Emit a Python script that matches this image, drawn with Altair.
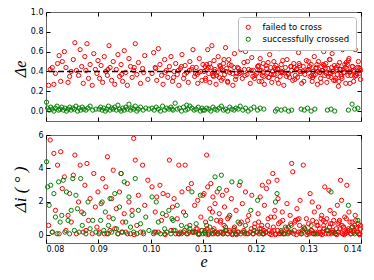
import altair as alt
import pandas as pd

# ---------------- data ----------------
# failed to cross: eccentricity e, change in e, change in inclination (deg)
e_fail_1 = [0.0805, 0.0808, 0.0812, 0.0815, 0.0818, 0.0822, 0.0825, 0.0828, 0.0831, 0.0835,
            0.0838, 0.0842, 0.0845, 0.0848, 0.0852, 0.0855, 0.0858, 0.0862, 0.0865, 0.0868,
            0.0871, 0.0874, 0.0878, 0.0881, 0.0884, 0.0888, 0.0891, 0.0894, 0.0897, 0.0899]
de_fail_1 = [0.26, 0.42, 0.44, 0.27, 0.38, 0.48, 0.56, 0.30, 0.50, 0.60,
             0.44, 0.29, 0.35, 0.40, 0.52, 0.69, 0.41, 0.36, 0.62, 0.45,
             0.28, 0.55, 0.68, 0.33, 0.47, 0.26, 0.58, 0.42, 0.38, 0.51]
di_fail_1 = [0.6, 5.7, 0.2, 4.9, 1.5, 4.2, 0.1, 5.0, 2.8, 3.5,
             0.3, 1.2, 2.5, 0.8, 3.6, 4.8, 0.1, 2.0, 4.2, 1.4,
             0.2, 3.0, 4.3, 0.9, 2.2, 0.1, 3.7, 1.7, 0.5, 2.6]

e_fail_2 = [0.0902, 0.0905, 0.0908, 0.0911, 0.0914, 0.0917, 0.0920, 0.0922, 0.0925, 0.0928,
            0.0931, 0.0934, 0.0937, 0.0940, 0.0943, 0.0946, 0.0949, 0.0952, 0.0955, 0.0958,
            0.0961, 0.0964, 0.0967, 0.0970, 0.0973, 0.0976, 0.0980, 0.0984, 0.0988, 0.0994]
de_fail_2 = [0.33, 0.46, 0.29, 0.55, 0.40, 0.36, 0.66, 0.44, 0.31, 0.50,
             0.27, 0.42, 0.57, 0.35, 0.47, 0.30, 0.61, 0.39, 0.26, 0.53,
             0.45, 0.34, 0.41, 0.68, 0.37, 0.49, 0.28, 0.43, 0.56, 0.32]
di_fail_2 = [0.2, 1.9, 3.4, 0.1, 2.9, 4.7, 1.1, 0.3, 2.2, 3.9,
             0.4, 1.6, 0.1, 2.6, 3.7, 0.8, 1.3, 0.2, 3.1, 2.0,
             0.1, 1.5, 5.8, 4.5, 0.6, 2.4, 0.2, 4.2, 1.8, 3.3]

e_fail_3 = [0.1002, 0.1005, 0.1008, 0.1011, 0.1014, 0.1017, 0.1020, 0.1023, 0.1026, 0.1029,
            0.1032, 0.1035, 0.1038, 0.1041, 0.1044, 0.1047, 0.1050, 0.1053, 0.1056, 0.1059,
            0.1062, 0.1065, 0.1068, 0.1071, 0.1074, 0.1077, 0.1080, 0.1083, 0.1086, 0.1089,
            0.1092, 0.1095, 0.1097, 0.1099, 0.1085]
de_fail_3 = [0.38, 0.59, 0.44, 0.31, 0.63, 0.47, 0.36, 0.27, 0.52, 0.41,
             0.34, 0.45, 0.55, 0.30, 0.40, 0.48, 0.37, 0.26, 0.43, 0.57,
             0.33, 0.46, 0.39, 0.29, 0.50, 0.42, 0.62, 0.35, 0.44, 0.28,
             0.53, 0.40, 0.31, 0.47, 0.38]
di_fail_3 = [2.9, 0.1, 1.4, 2.3, 0.2, 3.0, 0.9, 2.5, 0.1, 1.2,
             2.4, 4.5, 0.3, 1.7, 2.2, 0.1, 1.0, 4.2, 0.2, 2.6,
             1.4, 4.2, 0.1, 2.8, 0.6, 3.1, 0.2, 1.8, 0.4, 2.1,
             0.1, 1.1, 0.3, 2.4, 0.2]

e_fail_4 = [0.1101, 0.1104, 0.1106, 0.1108, 0.1110, 0.1112, 0.1114, 0.1116, 0.1118, 0.1120,
            0.1122, 0.1124, 0.1126, 0.1128, 0.1130, 0.1132, 0.1134, 0.1136, 0.1138, 0.1140,
            0.1142, 0.1144, 0.1146, 0.1148, 0.1150, 0.1153, 0.1156, 0.1159, 0.1162, 0.1165,
            0.1168, 0.1171, 0.1174, 0.1177, 0.1180, 0.1183, 0.1186, 0.1189, 0.1192, 0.1195,
            0.1198, 0.1103, 0.1117, 0.1133, 0.1161]
de_fail_4 = [0.40, 0.33, 0.47, 0.62, 0.38, 0.29, 0.44, 0.66, 0.36, 0.51,
             0.42, 0.27, 0.39, 0.55, 0.34, 0.45, 0.31, 0.41, 0.48, 0.37,
             0.64, 0.43, 0.30, 0.52, 0.39, 0.46, 0.26, 0.58, 0.35, 0.44,
             0.40, 0.62, 0.33, 0.49, 0.60, 0.37, 0.42, 0.28, 0.54, 0.41,
             0.36, 0.45, 0.38, 0.43, 0.32]
di_fail_4 = [2.5, 0.1, 4.8, 2.9, 0.2, 1.6, 3.1, 0.1, 2.3, 0.4,
             1.9, 0.2, 2.6, 0.1, 1.3, 0.8, 0.2, 2.4, 0.1, 1.7,
             0.3, 2.7, 0.1, 1.1, 0.2, 2.2, 0.1, 0.5, 1.5, 0.2,
             3.0, 0.1, 1.9, 0.3, 2.6, 0.1, 1.2, 0.2, 2.4, 0.1,
             0.7, 0.3, 1.4, 0.9, 0.1]

e_fail_5 = [0.1201, 0.1204, 0.1206, 0.1208, 0.1210, 0.1212, 0.1214, 0.1216, 0.1218, 0.1220,
            0.1222, 0.1224, 0.1226, 0.1228, 0.1230, 0.1232, 0.1234, 0.1236, 0.1238, 0.1240,
            0.1242, 0.1244, 0.1246, 0.1248, 0.1250, 0.1253, 0.1256, 0.1259, 0.1262, 0.1265,
            0.1268, 0.1270, 0.1272, 0.1275, 0.1278, 0.1281, 0.1284, 0.1287, 0.1290, 0.1293,
            0.1296, 0.1299, 0.1215, 0.1247, 0.1283]
de_fail_5 = [0.38, 0.45, 0.30, 0.53, 0.41, 0.36, 0.48, 0.27, 0.66, 0.43,
             0.39, 0.34, 0.57, 0.44, 0.29, 0.40, 0.50, 0.37, 0.46, 0.32,
             0.42, 0.63, 0.35, 0.47, 0.39, 0.26, 0.44, 0.52, 0.38, 0.66,
             0.41, 0.31, 0.48, 0.36, 0.43, 0.59, 0.40, 0.28, 0.45, 0.37,
             0.51, 0.42, 0.35, 0.39, 0.46]
di_fail_5 = [0.2, 1.3, 0.1, 2.3, 0.4, 3.0, 0.1, 1.8, 0.2, 2.8,
             0.6, 3.2, 0.1, 1.1, 0.2, 3.7, 0.3, 1.5, 0.1, 3.3,
             2.2, 0.1, 0.8, 0.2, 1.4, 0.1, 0.5, 1.9, 0.2, 1.2,
             4.3, 3.8, 0.1, 0.9, 1.6, 0.2, 2.1, 0.1, 4.2, 0.4,
             1.0, 0.2, 0.3, 0.1, 0.6]

e_fail_6 = [0.1301, 0.1303, 0.1305, 0.1307, 0.1309, 0.1311, 0.1313, 0.1315, 0.1317, 0.1319,
            0.1321, 0.1323, 0.1325, 0.1327, 0.1329, 0.1331, 0.1333, 0.1335, 0.1337, 0.1339,
            0.1341, 0.1343, 0.1345, 0.1347, 0.1349, 0.1351, 0.1353, 0.1355, 0.1357, 0.1359,
            0.1361, 0.1363, 0.1365, 0.1367, 0.1369, 0.1371, 0.1373, 0.1375, 0.1377, 0.1380,
            0.1383, 0.1386, 0.1389, 0.1392, 0.1396]
de_fail_6 = [0.42, 0.35, 0.47, 0.30, 0.40, 0.55, 0.37, 0.44, 0.27, 0.50,
             0.39, 0.33, 0.45, 0.41, 0.60, 0.36, 0.48, 0.29, 0.43, 0.38,
             0.52, 0.34, 0.58, 0.40, 0.46, 0.31, 0.44, 0.37, 0.25, 0.49,
             0.42, 0.35, 0.62, 0.39, 0.47, 0.28, 0.43, 0.36, 0.53, 0.40,
             0.45, 0.30, 0.62, 0.38, 0.44]
di_fail_6 = [0.1, 2.5, 0.3, 2.0, 0.1, 1.4, 0.2, 0.8, 0.1, 1.7,
             0.4, 0.1, 1.2, 0.2, 0.6, 2.9, 0.1, 1.0, 0.3, 2.7,
             1.5, 0.1, 0.7, 0.2, 1.3, 0.1, 0.4, 1.8, 0.2, 0.9,
             3.3, 2.1, 0.1, 0.5, 1.1, 0.2, 3.0, 0.3, 1.4, 0.1,
             0.8, 0.2, 1.2, 0.4, 0.1]

e_fail_7 = [0.1052, 0.1064, 0.1079, 0.1091, 0.1107, 0.1119, 0.1131, 0.1143, 0.1155, 0.1167,
            0.1179, 0.1191, 0.1203, 0.1213, 0.1225, 0.1237, 0.1249, 0.1261, 0.1273, 0.1285,
            0.1297, 0.1306, 0.1314, 0.1322, 0.1330, 0.1338, 0.1346, 0.1354, 0.1362, 0.1370,
            0.1378, 0.1385, 0.1391, 0.1398, 0.1318, 0.1342, 0.1366, 0.1388, 0.1266, 0.1172]
de_fail_7 = [0.41, 0.37, 0.44, 0.39, 0.42, 0.35, 0.46, 0.40, 0.38, 0.43,
             0.36, 0.41, 0.45, 0.39, 0.34, 0.42, 0.40, 0.37, 0.44, 0.38,
             0.41, 0.36, 0.43, 0.39, 0.46, 0.35, 0.40, 0.42, 0.37, 0.44,
             0.39, 0.41, 0.36, 0.43, 0.40, 0.38, 0.42, 0.35, 0.45, 0.39]
di_fail_7 = [0.1, 0.3, 0.2, 0.05, 0.4, 0.1, 0.2, 0.3, 0.05, 0.2,
             0.1, 0.4, 0.2, 0.1, 0.3, 0.05, 0.2, 0.1, 0.3, 0.2,
             0.05, 0.3, 0.1, 0.2, 0.4, 0.1, 0.3, 0.05, 0.2, 0.1,
             0.3, 0.2, 0.5, 0.1, 0.6, 0.7, 0.5, 0.6, 0.7, 0.8]

e_fail_8 = [0.1009, 0.1027, 0.1043, 0.1058, 0.1073, 0.1088, 0.1109, 0.1121, 0.1137, 0.1149,
            0.1163, 0.1178, 0.1194, 0.1207, 0.1219, 0.1229, 0.1241, 0.1252, 0.1264, 0.1277,
            0.1289, 0.1302, 0.1310, 0.1326, 0.1334, 0.1344, 0.1352, 0.1360, 0.1368, 0.1374,
            0.1381, 0.1387, 0.1393, 0.1397, 0.1399, 0.0918, 0.0944, 0.0968, 0.0986, 0.0876]
de_fail_8 = [0.43, 0.39, 0.34, 0.45, 0.41, 0.37, 0.44, 0.40, 0.33, 0.47,
             0.38, 0.42, 0.35, 0.41, 0.46, 0.37, 0.43, 0.39, 0.34, 0.42,
             0.40, 0.45, 0.36, 0.41, 0.38, 0.44, 0.33, 0.42, 0.39, 0.47,
             0.36, 0.40, 0.44, 0.38, 0.41, 0.42, 0.37, 0.44, 0.39, 0.41]
di_fail_8 = [0.2, 0.05, 0.3, 0.1, 0.2, 0.4, 0.05, 0.2, 0.1, 0.3,
             0.05, 0.2, 0.1, 0.4, 0.2, 0.05, 0.3, 0.1, 0.2, 0.05,
             0.3, 0.2, 0.1, 0.05, 0.3, 0.2, 0.1, 0.4, 0.05, 0.2,
             0.1, 0.3, 0.2, 0.05, 0.4, 0.1, 0.2, 0.05, 0.1, 0.3]

e_fail_9 = [0.1104, 0.1112, 0.1125, 0.1139, 0.1146, 0.1158, 0.1169, 0.1184, 0.1197, 0.1205,
            0.1211, 0.1223, 0.1233, 0.1243, 0.1251, 0.1258, 0.1267, 0.1274, 0.1282, 0.1291,
            0.1300, 0.1308, 0.1316, 0.1324, 0.1332, 0.1340, 0.1348, 0.1356, 0.1364, 0.1372,
            0.1379, 0.1384, 0.1390, 0.1395, 0.1399, 0.1328, 0.1358, 0.1376, 0.1235, 0.1279]
de_fail_9 = [0.31, 0.48, 0.36, 0.52, 0.29, 0.44, 0.38, 0.50, 0.33, 0.46,
             0.30, 0.49, 0.37, 0.28, 0.51, 0.35, 0.45, 0.32, 0.48, 0.30,
             0.50, 0.34, 0.47, 0.29, 0.43, 0.52, 0.31, 0.46, 0.33, 0.49,
             0.28, 0.45, 0.36, 0.50, 0.32, 0.47, 0.30, 0.51, 0.44, 0.34]
di_fail_9 = [0.8, 0.5, 0.9, 0.6, 1.0, 0.4, 0.7, 0.9, 0.5, 0.8,
             0.6, 1.0, 0.5, 0.7, 0.9, 0.4, 0.6, 0.8, 1.0, 0.5,
             0.7, 0.9, 0.6, 1.0, 0.8, 0.5, 0.9, 0.7, 0.6, 1.0,
             0.8, 0.5, 0.9, 0.7, 0.6, 0.9, 0.8, 0.4, 1.1, 0.95]

# successfully crossed
e_succ_1 = [0.0801, 0.0803, 0.0806, 0.0809, 0.0812, 0.0815, 0.0818, 0.0821, 0.0824, 0.0827,
            0.0830, 0.0833, 0.0836, 0.0839, 0.0842, 0.0845, 0.0848, 0.0851, 0.0854, 0.0857,
            0.0860, 0.0863, 0.0866, 0.0869, 0.0872, 0.0876, 0.0880, 0.0884, 0.0889, 0.0895]
de_succ_1 = [0.09, 0.03, 0.01, 0.04, 0.02, 0.00, 0.03, 0.05, 0.01, 0.02,
             0.04, 0.01, 0.03, 0.00, 0.02, 0.04, 0.01, 0.03, 0.02, 0.05,
             0.00, 0.03, 0.01, 0.04, 0.02, 0.01, 0.03, 0.05, 0.01, 0.02]
di_succ_1 = [4.4, 2.9, 1.8, 3.0, 0.2, 2.5, 1.1, 0.1, 3.2, 0.8,
             1.2, 3.3, 0.2, 2.6, 0.9, 0.1, 1.5, 3.4, 0.3, 2.4,
             1.6, 0.2, 3.4, 0.6, 1.3, 0.1, 2.0, 0.4, 0.9, 0.2]

e_succ_2 = [0.0901, 0.0904, 0.0907, 0.0910, 0.0913, 0.0916, 0.0919, 0.0922, 0.0925, 0.0928,
            0.0931, 0.0934, 0.0937, 0.0940, 0.0943, 0.0946, 0.0949, 0.0952, 0.0955, 0.0958,
            0.0961, 0.0964, 0.0967, 0.0970, 0.0973, 0.0976, 0.0980, 0.0985, 0.0990, 0.0996]
de_succ_2 = [0.02, 0.04, 0.01, 0.03, 0.00, 0.02, 0.05, 0.01, 0.03, 0.02,
             0.04, 0.01, 0.06, 0.02, 0.00, 0.03, 0.01, 0.04, 0.02, 0.07,
             0.01, 0.03, 0.02, 0.05, 0.00, 0.02, 0.04, 0.01, 0.03, 0.02]
di_succ_2 = [0.1, 0.9, 2.0, 0.3, 1.4, 0.1, 0.6, 2.2, 0.2, 1.0,
             2.5, 0.4, 0.1, 1.7, 3.7, 0.2, 3.2, 0.8, 0.1, 2.3,
             0.5, 1.2, 0.2, 3.4, 0.1, 1.5, 0.7, 0.2, 1.1, 0.3]

e_succ_3 = [0.1002, 0.1006, 0.1010, 0.1014, 0.1018, 0.1022, 0.1026, 0.1030, 0.1034, 0.1038,
            0.1042, 0.1046, 0.1050, 0.1054, 0.1058, 0.1062, 0.1066, 0.1070, 0.1074, 0.1078,
            0.1082, 0.1086, 0.1090, 0.1094, 0.1097, 0.1099, 0.1040, 0.1068]
de_succ_3 = [0.03, 0.01, 0.04, 0.02, 0.00, 0.05, 0.01, 0.03, 0.02, 0.04,
             0.01, 0.08, 0.02, 0.03, 0.00, 0.04, 0.01, 0.02, 0.05, 0.03,
             0.01, 0.02, 0.04, 0.00, 0.03, 0.01, 0.02, 0.06]
di_succ_3 = [2.3, 0.2, 2.0, 0.8, 0.1, 1.3, 0.4, 0.2, 1.5, 0.1,
             0.9, 0.3, 1.8, 0.1, 0.6, 0.2, 1.2, 0.1, 0.4, 2.6,
             0.2, 0.7, 0.1, 2.4, 0.3, 0.1, 1.0, 0.5]

e_succ_4 = [0.1102, 0.1106, 0.1110, 0.1114, 0.1118, 0.1122, 0.1126, 0.1130, 0.1134, 0.1138,
            0.1142, 0.1146, 0.1150, 0.1154, 0.1158, 0.1162, 0.1166, 0.1170, 0.1175, 0.1180,
            0.1185, 0.1190, 0.1196, 0.1203, 0.1208, 0.1215, 0.1237, 0.1240]
de_succ_4 = [0.01, 0.03, 0.02, 0.00, 0.04, 0.02, 0.01, 0.03, 0.05, 0.01,
             0.02, 0.00, 0.04, 0.02, 0.01, 0.03, 0.02, 0.05, 0.01, 0.03,
             0.00, 0.02, 0.04, 0.01, 0.03, 0.02, 0.00, 0.02]
di_succ_4 = [0.2, 0.6, 0.1, 1.0, 0.3, 3.5, 0.1, 2.8, 3.6, 0.2,
             0.5, 0.1, 1.2, 3.2, 0.3, 0.1, 0.8, 3.2, 0.2, 0.6,
             0.1, 1.5, 0.3, 2.1, 0.2, 0.1, 2.0, 2.5]

e_succ_5 = [0.1248, 0.1255, 0.1262, 0.1268, 0.1286, 0.1292, 0.1298, 0.1305, 0.1312, 0.1336,
            0.1343, 0.1350, 0.1376, 0.1383, 0.1388, 0.1394]
de_succ_5 = [0.01, 0.02, 0.00, 0.01, 0.02, 0.01, 0.03, 0.00, 0.02, 0.01,
             0.02, 0.00, 0.01, 0.07, 0.02, 0.03]
di_succ_5 = [0.3, 0.1, 0.5, 0.2, 0.1, 0.4, 0.2, 0.6, 0.1, 0.3,
             2.6, 0.2, 1.8, 0.5, 0.1, 0.9]

labels = ["failed to cross", "successfully crossed"]
colors = ["#ff0000", "#008000"]
de_mean = 0.4
x_ticks = [0.08, 0.09, 0.10, 0.11, 0.12, 0.13, 0.14]
de_ticks = [0.0, 0.2, 0.4, 0.6, 0.8, 1.0]
di_ticks = [0, 2, 4, 6]

# ---------------- tables ----------------
fail = pd.DataFrame({
    "e": (e_fail_1 + e_fail_2 + e_fail_3 + e_fail_4 + e_fail_5 + e_fail_6 + e_fail_7
          + e_fail_8 + e_fail_9),
    "de": (de_fail_1 + de_fail_2 + de_fail_3 + de_fail_4 + de_fail_5 + de_fail_6 + de_fail_7
           + de_fail_8 + de_fail_9),
    "di": (di_fail_1 + di_fail_2 + di_fail_3 + di_fail_4 + di_fail_5 + di_fail_6 + di_fail_7
           + di_fail_8 + di_fail_9),
})
fail["status"] = labels[0]
succ = pd.DataFrame({
    "e": e_succ_1 + e_succ_2 + e_succ_3 + e_succ_4 + e_succ_5,
    "de": de_succ_1 + de_succ_2 + de_succ_3 + de_succ_4 + de_succ_5,
    "di": di_succ_1 + di_succ_2 + di_succ_3 + di_succ_4 + di_succ_5,
})
succ["status"] = labels[1]
mean_df = pd.DataFrame({"v": [de_mean]})

# ---------------- styling helpers ----------------
W = 315
H_TOP = 109
H_BOT = 108
xscale = alt.Scale(domain=[0.08, 0.14], nice=False, zero=False)
de_scale = alt.Scale(domain=[-0.1, 1.0], nice=False, zero=False)
di_scale = alt.Scale(domain=[-0.45, 6], nice=False, zero=False)


def ax(orient, values, show_labels=True, fmt=None, **extra):
    kw = dict(orient=orient, values=values, offset=-4, tickSize=4, tickWidth=1,
              tickColor="black", domain=False, grid=False, labels=show_labels,
              labelFont="DejaVu Sans", labelFontSize=8, labelColor="black",
              labelPadding=3, titleFont="Liberation Serif", titleFontStyle="italic",
              titleFontWeight="normal", titleFontSize=16, titleColor="black",
              titleBaseline="middle", titleAlign="center")
    if fmt:
        kw["format"] = fmt
    kw.update(extra)
    return alt.Axis(**kw)


pt = dict(shape="circle", filled=False, size=18, strokeWidth=1, opacity=1)

color = alt.Color(
    "status:N",
    scale=alt.Scale(domain=labels, range=colors),
    legend=alt.Legend(orient="top-right", offset=5, title=None, fillColor="white",
                      strokeColor="#bbbbbb", padding=6, cornerRadius=3,
                      labelFont="DejaVu Sans", labelFontSize=8.5, labelColor="black",
                      symbolSize=18, symbolStrokeWidth=1, labelOffset=10,
                      rowPadding=3, symbolType="circle"),
)

# ---------------- top panel ----------------
top_fail = alt.Chart(fail).mark_point(**pt).encode(
    x=alt.X("e:Q", scale=xscale, axis=ax("bottom", x_ticks, False), title=None),
    y=alt.Y("de:Q", scale=de_scale,
            axis=ax("left", de_ticks, True, ".1f", titleX=-30, titleY=H_TOP / 2 + 2, titleAngle=270),
            title="Δe"),
    color=color,
)
top_succ = alt.Chart(succ).mark_point(**pt).encode(
    x=alt.X("e:Q", scale=xscale, axis=ax("top", x_ticks, False), title=None),
    y=alt.Y("de:Q", scale=de_scale, axis=ax("right", de_ticks, False), title=None),
    color=color,
)
top_rule = alt.Chart(mean_df).mark_rule(color="black", strokeDash=[6, 3], strokeWidth=1.5).encode(
    y=alt.Y("v:Q", scale=de_scale, axis=None),
)
top = alt.layer(top_fail, top_succ, top_rule).resolve_axis(
    x="independent", y="independent"
).properties(width=W, height=H_TOP)

# ---------------- bottom panel ----------------
bot_fail = alt.Chart(fail).mark_point(**pt).encode(
    x=alt.X("e:Q", scale=xscale,
            axis=ax("bottom", x_ticks, True, ".2f", titleX=W / 2, titleY=22, titleAngle=0,
                    labelPadding=2),
            title="e"),
    y=alt.Y("di:Q", scale=di_scale,
            axis=ax("left", di_ticks, True, "d", titleX=-30, titleY=H_BOT / 2, titleAngle=270,
                    titleFontSize=17),
            title="Δi ( ° )"),
    color=alt.value(colors[0]),
)
bot_succ = alt.Chart(succ).mark_point(**pt).encode(
    x=alt.X("e:Q", scale=xscale, axis=ax("top", x_ticks, False), title=None),
    y=alt.Y("di:Q", scale=di_scale, axis=ax("right", di_ticks, False), title=None),
    color=alt.value(colors[1]),
)
bottom = alt.layer(bot_fail, bot_succ).resolve_axis(
    x="independent", y="independent"
).properties(width=W, height=H_BOT)

chart = alt.vconcat(top, bottom, spacing=8).resolve_legend(color="independent").properties(
    padding={"left": 2, "top": -1, "right": 0, "bottom": 0}
).configure_view(stroke="#666666", strokeWidth=1)

chart.save("out.html", embed_options={"renderer": "svg", "actions": False})
